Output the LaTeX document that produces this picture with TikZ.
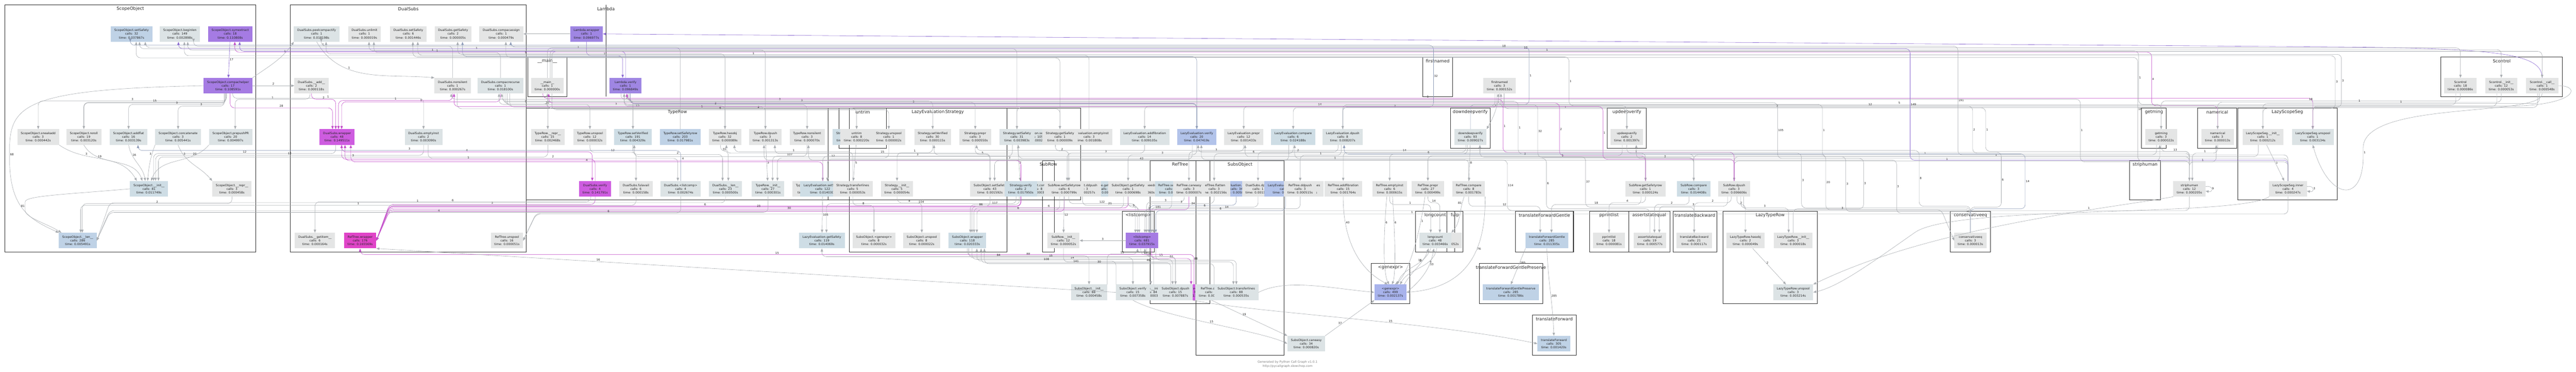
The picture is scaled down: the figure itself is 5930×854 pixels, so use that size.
\documentclass[tikz,border=0pt]{standalone}
\usepackage{fontspec}
\setmainfont{DejaVu Sans}
\usetikzlibrary{arrows.meta}

\newcommand{\nodefont}{\fontsize{7}{8.4}\selectfont}
\newcommand{\titlefont}{\fontsize{10}{12}\selectfont}
\newcommand{\numfont}{\fontsize{6.5}{7}\selectfont}

% function box: name, x, y, fill, label, calls, time
\newcommand{\callnode}[7]{\node[fn=#4] (#1) at (#2,-#3) {#5\\calls: #6\\time: #7s};}
% group frame with its title
\newcommand{\cluster}[6]{\draw[cluster box] (#2,-#3) rectangle (#4,-#5);
  \node[cluster title] (#1) at ({(#2+#4)/2},-#3-9) {#6};}
% call routed along one lane
\newcommand{\callvia}[5][]{\coordinate (ln) at (0,-#4);
  \draw[call,#1] (#2) -- (#2 |- ln) -- node[num]{#5} (#3 |- ln) -- (#3);}
% call that changes lane at x = #5
\newcommand{\callclimb}[7][]{\coordinate (la) at (#5,-#4); \coordinate (lb) at (#5,-#6);
  \draw[call,#1] (#2) -- (#2 |- la) -- (la) -- node[num,right]{#7} (lb) -- (#3 |- lb) -- (#3);}
% call entering a box from its right or left side
\newcommand{\callside}[5][]{\coordinate (ln) at (0,-#4); \coordinate (lp) at ([xshift=30pt]#3.east);
  \draw[call,#1] (#2) -- (#2 |- ln) -- node[num]{#5} (lp |- ln) -- (#3.east);}
\newcommand{\callsidel}[5][]{\coordinate (ln) at (0,-#4); \coordinate (lp) at ([xshift=-30pt]#3.west);
  \draw[call,#1] (#2) -- (#2 |- ln) -- node[num]{#5} (lp |- ln) -- (#3.west);}

\begin{document}
\begin{tikzpicture}
  [x=1pt,y=1pt,line cap=round,
  %Styles
  fn/.style={fill=#1,text=textgray,font=\nodefont,align=center,inner xsep=8pt,inner ysep=2pt,minimum height=36pt},
  cluster box/.style={draw=framegray,line width=1.2pt},
  cluster title/.style={font=\titlefont,text=black!85,inner sep=0pt},
  call/.style={draw=edgegray,line width=0.7pt,rounded corners=10pt,-{Triangle[length=7pt,width=5.5pt]}},
  num/.style={font=\numfont,text=black!85,inner sep=1pt,above},
  hot call/.style={draw=edgemag},
  purple call/.style={draw=edgepurp},
  cool call/.style={draw=edgeblue},
  heavy/.style={line width=1.4pt}
  ]

  %Colors
  \definecolor{textgray}{HTML}{262626}
  \definecolor{framegray}{HTML}{333333}
  \definecolor{edgegray}{HTML}{A9ADB1}
  \definecolor{edgemag}{HTML}{C24BC9}
  \definecolor{edgepurp}{HTML}{8C6BD2}
  \definecolor{edgeblue}{HTML}{8E9CB8}
  \definecolor{gr}{HTML}{E4E5E5}
  \definecolor{gb1}{HTML}{DCE3E5}
  \definecolor{gb2}{HTML}{CEDDE5}
  \definecolor{gb3}{HTML}{BFD2E6}
  \definecolor{gb4}{HTML}{B2C3EA}
  \definecolor{gb5}{HTML}{A8B3EC}
  \definecolor{purp}{HTML}{A57BE3}
  \definecolor{lav}{HTML}{9F86E3}
  \definecolor{mag}{HTML}{CE5CE0}
  \definecolor{hot}{HTML}{E045C8}

  \useasboundingbox (0,0) rectangle (5930,-854);
  \fill[white] (0,0) rectangle (5930,-854);

  %The graphic
  \cluster{tScopeObject}{11}{11}{589}{579}{ScopeObject}
  \cluster{tDualSubs}{668}{11}{1212}{579}{DualSubs}
  \cluster{tLambda}{1395}{11}{1395}{222}{Lambda}
  \cluster{tmain}{1215}{131}{1305}{222}{\_\_main\_\_}
  \cluster{tTypeRow}{1212}{249}{1907}{460}{TypeRow}
  \cluster{tStrategy}{1907}{249}{2488}{460}{Strategy}
  \cluster{tuntrim}{1931}{249}{2041}{341}{untrim}
  \cluster{tLazyEvaluation}{1955}{249}{2318}{579}{LazyEvaluation}
  \cluster{tSubRow}{2400}{369}{2427}{579}{SubRow}
  \cluster{tRefTree}{2648}{369}{2785}{698}{RefTree}
  \cluster{tSubsObject}{2753}{369}{2956}{817}{SubsObject}
  \cluster{tlistcomp}{2584}{486}{2657}{579}{<listcomp>}
  \cluster{tfirstnamed}{3275}{131}{3344}{222}{firstnamed}
  \cluster{tdowndeep}{3339}{249}{3430}{341}{downdeepverify}
  \cluster{tupdeep}{3700}{249}{3790}{341}{updeepverify}
  \cluster{tlongcount}{3259}{486}{3349}{579}{longcount}
  \cluster{tfulp}{3331}{486}{3368}{579}{fulp}
  \cluster{ttfg}{3489}{486}{3622}{579}{translateForwardGentle}
  \cluster{tpprint}{3659}{486}{3749}{579}{pprintlist}
  \cluster{tassert}{3749}{486}{3844}{579}{assertstatequal}
  \cluster{ttback}{3851}{486}{3952}{579}{translateBackward}
  \cluster{tLazyTypeRow}{3967}{486}{4183}{698}{LazyTypeRow}
  \cluster{tconseq}{4490}{486}{4582}{579}{conservativeeq}
  \cluster{tgenexpr}{3156}{606}{3246}{698}{<genexpr>}
  \cluster{ttfgp}{3405}{606}{3551}{698}{translateForwardGentlePreserve}
  \cluster{ttforward}{3528}{724}{3628}{817}{translateForward}
  \cluster{tgetming}{4930}{249}{4987}{341}{getming}
  \cluster{tstriphuman}{4902}{369}{4974}{460}{striphuman}
  \cluster{tnamerical}{5059}{249}{5149}{341}{namerical}
  \cluster{tLazyScopeSeg}{5151}{249}{5380}{460}{LazyScopeSeg}
  \cluster{tScontrol}{5619}{131}{5899}{222}{Scontrol}

  % rank 1
  \callnode{sosafe}{303}{78}{gb3}{ScopeObject.setSafety}{32}{0.037867}
  \callnode{sobeg}{414}{78}{gb1}{ScopeObject.beginlen}{149}{0.002898}
  \callnode{sosym}{530}{78}{purp}{ScopeObject.symextract}{18}{0.110808}
  \callnode{dspeel}{729}{78}{gb1}{DualSubs.peelcompactify}{1}{0.018198}
  \callnode{dsunlim}{839}{78}{gr}{DualSubs.unlimit}{1}{0.000019}
  \callnode{dssafe}{940}{78}{gr}{DualSubs.setSafety}{6}{0.001446}
  \callnode{dsgetsafe}{1043}{78}{gr}{DualSubs.getSafety}{2}{0.000005}
  \callnode{dscompas}{1154}{78}{gr}{DualSubs.compacassign}{1}{0.000479}
  \callnode{lamwrap}{1350}{78}{lav}{Lambda.wrapper}{1}{0.096977}
  % rank 2
  \callnode{socomp}{525}{197}{purp}{ScopeObject.compachelper}{17}{0.108591}
  \callnode{dsadd}{717}{197}{gr}{DualSubs.\_\_add\_\_}{2}{0.000118}
  \callnode{dsnonsil}{1042}{197}{gr}{DualSubs.nonsilent}{1}{0.000267}
  \callnode{dscomprec}{1152}{197}{gb1}{DualSubs.compacrecurse}{1}{0.018100}
  \callnode{mainfn}{1260}{197}{gr}{\_\_main\_\_}{1}{0.000000}
  \callnode{lamver}{1440}{197}{lav}{Lambda.verify}{1}{0.096849}
  \callnode{firstnamed}{3452}{197}{gr}{firstnamed}{3}{0.000152}
  \callnode{scontrol}{5664}{197}{gr}{Scontrol}{18}{0.000086}
  \callnode{scinit}{5758}{197}{gr}{Scontrol.\_\_init\_\_}{12}{0.000053}
  \callnode{sccall}{5852}{197}{gr}{Scontrol.\_\_call\_\_}{1}{0.000548}
  % rank 3
  \callnode{sosneak}{88}{315}{gr}{ScopeObject.sneakadd}{3}{0.000442}
  \callnode{soreroll}{193}{315}{gr}{ScopeObject.reroll}{19}{0.003120}
  \callnode{soaddflat}{296}{315}{gb1}{ScopeObject.addflat}{16}{0.003139}
  \callnode{soconcat}{410}{315}{gb1}{ScopeObject.concatenate}{3}{0.005441}
  \callnode{soprepush}{531}{315}{gb1}{ScopeObject.prepushPR}{20}{0.004997}
  \callnode{dswrap}{776}{315}{mag}{DualSubs.wrapper}{48}{0.149511}
  \callnode{dsempty}{975}{315}{gb1}{DualSubs.emptyinst}{2}{0.003090}
  \callnode{trrepr}{1261}{315}{gr}{TypeRow.\_\_repr\_\_}{15}{0.002468}
  \callnode{trunspool}{1358}{315}{gr}{TypeRow.unspool}{12}{0.000032}
  \callnode{trsetver}{1457}{315}{gb2}{TypeRow.setVerified}{191}{0.004329}
  \callnode{trsafe}{1566}{315}{gb3}{TypeRow.setSafetyrow}{203}{0.017981}
  \callnode{trhasobj}{1669}{315}{gr}{TypeRow.hasobj}{32}{0.000089}
  \callnode{trdpush}{1762}{315}{gr}{TypeRow.dpush}{3}{0.001313}
  \callnode{trnonsil}{1858}{315}{gr}{TypeRow.nonsilent}{3}{0.000070}
  \callnode{strahid}{1955}{315}{gb2}{Strategy.caneasy}{1}{0.000031}
  \callnode{untrim}{1972}{315}{gr}{untrim}{8}{0.000220}
  \callnode{stunspool}{2046}{315}{gr}{Strategy.unspool}{1}{0.000002}
  \callnode{stsetver}{2147}{315}{gr}{Strategy.setVerified}{30}{0.000115}
  \callnode{stprepr}{2245}{315}{gr}{Strategy.prepr}{3}{0.000550}
  \callnode{lesetver}{2384}{315}{gb1}{LazyEvaluation.setVerified}{105}{0.000230}
  \callnode{stsafe}{2341}{315}{gb1}{Strategy.setSafety}{31}{0.003983}
  \callnode{leempty}{2507}{315}{gr}{LazyEvaluation.emptyinst}{3}{0.001808}
  \callnode{stgetsafe}{2440}{315}{gr}{Strategy.getSafety}{1}{0.000009}
  \callnode{leaddfib}{2635}{315}{gb1}{LazyEvaluation.addfibration}{14}{0.009105}
  \callnode{leverify}{2755}{315}{gb4}{LazyEvaluation.verify}{20}{0.047419}
  \callnode{leprepr}{2863}{315}{gr}{LazyEvaluation.prepr}{12}{0.001433}
  \callnode{lecompare}{2977}{315}{gb2}{LazyEvaluation.compare}{6}{0.024188}
  \callnode{ledpush}{3091}{315}{gb1}{LazyEvaluation.dpush}{8}{0.008207}
  \callnode{downdeep}{3385}{315}{gb1}{downdeepverify}{93}{0.009027}
  \callnode{updeep}{3745}{315}{gr}{updeepverify}{2}{0.001397}
  \callnode{getming}{4975}{315}{gr}{getming}{3}{0.000022}
  \callnode{namerical}{5105}{315}{gr}{namerical}{3}{0.000013}
  \callnode{lssinit}{5209}{315}{gr}{LazyScopeSeg.\_\_init\_\_}{1}{0.000212}
  \callnode{lssunspool}{5324}{315}{gb1}{LazyScopeSeg.unspool}{1}{0.003134}
  % rank 4
  \callnode{soinit}{343}{434}{gb2}{ScopeObject.\_\_init\_\_}{81}{0.011749}
  \callnode{sorepr}{534}{434}{gr}{ScopeObject.\_\_repr\_\_}{3}{0.000458}
  \callnode{dsverify}{1370}{434}{mag}{DualSubs.verify}{4}{0.141791}
  \callnode{dsfulavail}{1464}{434}{gr}{DualSubs.fulavail}{6}{0.000158}
  \callnode{dslistcomp}{1567}{434}{gb1}{DualSubs.<listcomp>}{4}{0.002674}
  \callnode{dslen}{1670}{434}{gb1}{DualSubs.\_\_len\_\_}{23}{0.000500}
  \callnode{trinit}{1768}{434}{gb1}{TypeRow.\_\_init\_\_}{27}{0.000301}
  \callnode{trhid}{1865}{434}{gr}{TypeRow.getSafety}{1}{0.000011}
  \callnode{lesafe}{1894}{434}{gb2}{LazyEvaluation.setSafety}{122}{0.014030}
  \callnode{sttransfer}{1963}{434}{gr}{Strategy.transferlines}{5}{0.000053}
  \callnode{stinit}{2065}{434}{gr}{Strategy.\_\_init\_\_}{5}{0.000054}
  \callnode{sosetsafe}{2279}{434}{gr}{SubsObject.setSafety}{43}{0.001592}
  \callnode{socompare}{2387}{434}{gb1}{SubsObject.compare}{8}{0.000390}
  \callnode{stverify}{2350}{434}{gb2}{Strategy.verify}{2}{0.017950}
  \callnode{rtgetsafe}{2544}{434}{gb2}{RefTree.getSafety}{1}{0.000012}
  \callnode{soddpush}{2492}{434}{gr}{SubsObject.ddpush}{3}{0.000257}
  \callnode{srsafe}{2450}{434}{gr}{SubRow.setSafetyrow}{6}{0.000799}
  \callnode{soneeds}{2629}{434}{gr}{SubsObject.needs}{3}{0.000060}
  \callnode{sogetsafe}{2597}{434}{gr}{SubsObject.getSafety}{1}{0.000698}
  \callnode{rtsafe}{2697}{434}{gb2}{RefTree.setSafety}{12}{0.000410}
  \callnode{lecaneasy}{2846}{434}{gb4}{LazyEvaluation.caneasy}{34}{0.005870}
  \callnode{rtflatten}{2795}{434}{gr}{RefTree.flatten}{3}{0.002156}
  \callnode{rtcaneasy}{2737}{434}{gr}{RefTree.caneasy}{3}{0.000007}
  \callnode{dsdpush}{2896}{434}{gr}{DualSubs.dpush}{1}{0.001170}
  \callnode{lehid}{2959}{434}{gb4}{LazyEvaluation.ddpush}{3}{0.006530}
  \callnode{rthid}{3003}{434}{gr}{RefTree.transferlines}{14}{0.000090}
  \callnode{rtddpush}{2993}{434}{gr}{RefTree.ddpush}{3}{0.000515}
  \callnode{rtaddfib}{3092}{434}{gr}{RefTree.addfibration}{15}{0.001764}
  \callnode{rtempty}{3199}{434}{gr}{RefTree.emptyinst}{6}{0.000615}
  \callnode{rtprepr}{3287}{434}{gr}{RefTree.prepr}{27}{0.000499}
  \callnode{rtcompare}{3381}{434}{gr}{RefTree.compare}{8}{0.001783}
  \callnode{srgetsafe}{3788}{434}{gr}{SubRow.getSafetyrow}{1}{0.000124}
  \callnode{srcompare}{3899}{434}{gb2}{SubRow.compare}{3}{0.014408}
  \callnode{srdpush}{3992}{434}{gr}{SubRow.dpush}{3}{0.006606}
  \callnode{striphuman}{5040}{434}{gr}{striphuman}{12}{0.000205}
  \callnode{lssinner}{5267}{434}{gr}{LazyScopeSeg.inner}{4}{0.000247}
  % rank 5
  \callnode{solen}{179}{553}{gb3}{ScopeObject.\_\_len\_\_}{286}{0.005491}
  \callnode{dsgetitem}{725}{553}{gr}{DualSubs.\_\_getitem\_\_}{6}{0.000164}
  \callnode{rtwrap}{829}{553}{hot}{RefTree.wrapper}{176}{0.165569}
  \callnode{rtunspool}{1167}{553}{gr}{RefTree.unspool}{16}{0.000051}
  \callnode{legetsafe}{1892}{553}{gb2}{LazyEvaluation.getSafety}{119}{0.014069}
  \callnode{sogenexpr}{2012}{553}{gr}{SubsObject.<genexpr>}{8}{0.000032}
  \callnode{sounspool}{2122}{553}{gr}{SubsObject.unspool}{8}{0.000022}
  \callnode{sowrap}{2227}{553}{gb2}{SubsObject.wrapper}{118}{0.020333}
  \callnode{srinit}{2448}{553}{gr}{SubRow.\_\_init\_\_}{12}{0.000052}
  \callnode{listcomp}{2629}{553}{purp}{<listcomp>}{681}{0.037915}
  \callnode{fulp}{3329}{553}{gr}{fulp}{1}{0.000052}
  \callnode{longcount}{3304}{553}{gb1}{longcount}{48}{0.003466}
  \callnode{tfg}{3561}{553}{gb3}{translateForwardGentle}{285}{0.011305}
  \callnode{pprintlist}{3704}{553}{gr}{pprintlist}{18}{0.000081}
  \callnode{assertsq}{3798}{553}{gr}{assertstatequal}{19}{0.000577}
  \callnode{tback}{3900}{553}{gr}{translateBackward}{21}{0.000117}
  \callnode{ltrhasobj}{4018}{553}{gr}{LazyTypeRow.hasobj}{2}{0.000049}
  \callnode{ltrinit}{4128}{553}{gr}{LazyTypeRow.\_\_init\_\_}{3}{0.000018}
  \callnode{conseq}{4536}{553}{gr}{conservativeeq}{3}{0.000013}
  % rank 6
  \callnode{rtinit}{2649}{672}{gb1}{RefTree.\_\_init\_\_}{84}{0.000381}
  \callnode{soinit2}{2507}{672}{gb1}{SubsObject.\_\_init\_\_}{88}{0.000458}
  \callnode{soverify}{2608}{672}{gb1}{SubsObject.verify}{15}{0.007358}
  \callnode{rtverify}{2742}{672}{mag}{RefTree.verify}{32}{0.013696}
  \callnode{sodpush}{2706}{672}{gb1}{SubsObject.dpush}{15}{0.007887}
  \callnode{rthid2}{2789}{672}{gb1}{RefTree.dpush}{15}{0.000220}
  \callnode{sotransfer}{2846}{672}{gb1}{SubsObject.transferlines}{88}{0.000535}
  \callnode{genexpr}{3201}{672}{gb5}{<genexpr>}{499}{0.002137}
  \callnode{tfgp}{3478}{672}{gb3}{translateForwardGentlePreserve}{285}{0.001786}
  \callnode{ltrunspool}{4128}{672}{gb1}{LazyTypeRow.unspool}{3}{0.003214}
  % rank 7
  \callnode{socaneasy}{3007}{790}{gb1}{SubsObject.caneasy}{34}{0.000820}
  \callnode{tforward}{3577}{790}{gb3}{translateForward}{305}{0.001420}

  \node[font=\fontsize{7}{9.3}\selectfont,text=black!50,align=center] (credit) at (2964,-837)
    {Generated by Python Call Graph v1.0.1\\http://pycallgraph.slowchop.com};

  % ScopeObject
  \draw[call,purple call] (sosym) -- node[num,right]{17} (socomp);
  \draw[call] (socomp) -- node[num]{2} (dsadd);
  \draw[call] (socomp.north east) to[out=35,in=-125] node[num,pos=.8,left]{1} (dspeel.south west);
  \callvia{socomp.-100}{sosneak.north}{232}{3}
  \callvia[heavy]{socomp.-105}{soreroll.north}{236}{15}
  \callvia{socomp.-110}{soaddflat.north}{240}{3}
  \callvia{socomp.-115}{soconcat.north}{244}{3}
  \callvia[hot call]{socomp.-75}{dswrap.120}{248}{28}
  \callvia{dsadd.-100}{soprepush.60}{228}{1}
  \callvia{socomp.-60}{dsempty.north}{226}{1}
  \draw[call] (socomp.west) .. controls (60,-205) and (22,-240) .. (22,-355) node[num,right]{68}
    .. controls (22,-480) and (70,-505) .. (solen.north west);
  \draw[call] (sosneak.south east) to[out=-35,in=120] node[num,pos=.3,above right]{3} (soinit.147);
  \draw[call] (soreroll.south) to[out=-60,in=110] node[num,pos=.25,right]{19} (soinit.130);
  \draw[call] (soaddflat.south) to[out=-80,in=100] node[num,pos=.25,right]{16} (soinit.115);
  \draw[call] (soconcat.south west) to[out=-110,in=85] node[num,pos=.25,left]{3} (soinit.100);
  \draw[call] (soprepush.south west) to[out=-130,in=70] node[num,pos=.2,left]{20} (soinit.75);
  \draw[call] (soconcat.south) to[out=-70,in=130] node[num,pos=.2,right]{3} (sorepr.north west);
  \draw[call] (soinit.west) .. controls (150,-447) and (58,-450) .. (58,-474) node[num,left]{81}
    .. controls (58,-500) and (110,-515) .. ([xshift=6pt]solen.north west);

  % DualSubs and Lambda
  \draw[call] (dspeel.south) to[out=-60,in=175] node[num,pos=.35,above]{1} (dsnonsil.north west);
  \draw[call] (lamwrap.west) -- (dscompas.east);
  \callvia[purple call]{lamwrap.south}{lamver.110}{128}{1}
  \draw[call,purple call] (sccall.north) .. controls (5852,-125) and (5760,-112) .. (5400,-108) -- (lamwrap.east);

  % into the first rank
  \callvia{dsnonsil.north}{sobeg.-30}{106}{1}
  \callvia{trsafe.north}{sosafe.-30}{109}{1}
  \callvia{stsafe.north}{sosafe.-45}{112}{1}
  \callvia{trdpush.north}{sobeg.-45}{115}{1}
  \callvia[purple call]{lamver.north}{sosym.-40}{118}{1}
  \callvia{dscomprec.north}{dsunlim.-40}{121}{1}
  \callvia{trhasobj.north}{dspeel.-40}{124}{1}
  \callvia{leempty.north}{dssafe.-40}{127}{1}
  \callvia[cool call]{leverify.north}{dsgetsafe.-40}{130}{}
  \callvia{stgetsafe.north}{sosafe.-60}{133}{}
  \callvia{mainfn.north}{scontrol.north}{110}{18}
  \callvia{mainfn.70}{scinit.north}{114}{12}
  \callvia{mainfn.60}{sccall.north}{118}{1}
  \callclimb{getming.north}{dsunlim.-60}{240}{4923}{117}{1}
  \callclimb[hot call]{namerical.north}{sosym.-60}{243}{4953}{120}{4}
  \callclimb{lssunspool.north}{dsgetsafe.-60}{246}{5390}{125}{3}
  \callclimb{lssinit.north}{sobeg.-60}{249}{5376}{128}{3}
  \callclimb{updeep.north}{dssafe.-60}{243}{3612}{131}{1}
  \callclimb[cool call]{downdeep.north}{dscompas.-40}{240}{3520}{108}{1}
  \callclimb[cool call]{ledpush.north}{sosafe.-100}{246}{3300}{104}{32}

  % second to third rank
  \callvia[hot call]{dsadd.south}{dswrap.100}{228}{2}
  \callvia[hot call]{dsnonsil.south}{dswrap.80}{231}{1}
  \callvia[hot call]{dscomprec.south}{dswrap.60}{234}{1}
  \callvia{dscomprec.-70}{trrepr.north}{237}{1}
  \callvia{dscomprec.-60}{trunspool.north}{240}{20}
  \callvia{dscomprec.-50}{trhasobj.north}{243}{3}
  \callvia{dscomprec.-40}{trdpush.north}{246}{15}
  \callvia{mainfn.south}{untrim.north}{249}{1}
  \callvia{mainfn.-60}{stunspool.north}{252}{6}
  \callvia[hot call]{mainfn.-120}{lssunspool.north}{226}{1}
  \callvia{lamver.-120}{trsetver.north}{229}{2}
  \callvia{lamver.-80}{stsetver.north}{232}{3}
  \callvia{lamver.-70}{stprepr.north}{235}{3}
  \callvia[cool call,heavy]{lamver.-60}{leverify.north}{238}{3}
  \callvia{lamver.-100}{trnonsil.north}{241}{2}
  \callvia{firstnamed.-120}{leaddfib.north}{244}{14}
  \callvia{firstnamed.-110}{lecompare.north}{247}{3}
  \callvia{firstnamed.-60}{updeep.north}{250}{1}
  \draw[call] (firstnamed.south) to[out=-100,in=60] node[num,pos=.3,left]{1} (downdeep.north east);
  \callvia{scontrol.south}{getming.north}{232}{18}
  \callvia{scinit.south}{namerical.north}{235}{1}
  \callvia{sccall.-110}{lssinit.north}{238}{1}
  \callvia{scontrol.-120}{ledpush.north}{241}{5}
  \callvia{scinit.-120}{leprepr.north}{244}{12}
  \callvia{sccall.-120}{stsafe.north}{247}{3}
  \callvia{dsnonsil.-60}{stgetsafe.north}{250}{2}
  \coordinate (loopend) at (5324,-244);
  \draw[call] (sccall.east) .. controls (5945,-197) and (5930,-244) .. (5760,-244) -- (loopend) -- (lssunspool.north);
  \draw[call] (sccall.south) .. controls (5852,-270) and (5440,-230) .. (5440,-350) node[num,right]{1}
    .. controls (5440,-470) and (5360,-460) .. (lssunspool.south);

  % third to fourth rank
  \callvia[hot call]{dswrap.-60}{dsverify.110}{349}{4}
  \callvia{dswrap.-100}{soinit.60}{353}{12}
  \callvia{dsempty.south}{soinit.50}{357}{13}
  \callvia{trrepr.south}{soinit.40}{361}{3}
  \callvia{trunspool.south}{dsfulavail.north}{350}{12}
  \callvia{dsempty.-60}{dslistcomp.110}{364}{2}
  \callvia{trhasobj.-120}{dslen.70}{347}{31}
  \callvia{trsetver.south}{dslen.110}{355}{2}
  \draw[call] (trdpush) -- node[num,right]{3} (trinit);
  \callvia{trnonsil.south}{trinit.60}{359}{107}
  \callvia{stunspool.south}{trinit.40}{363}{12}
  \draw[call] (untrim) -- node[num,right]{5} (sttransfer);
  \callvia{stsetver.south}{stinit.north}{351}{1}
  \callvia{stprepr.south}{sosetsafe.north}{355}{5}
  \draw[call] (stsafe) -- node[num,right]{2} (stverify);
  \callvia{stsafe.-120}{lesafe.north}{359}{3}
  \callvia{stgetsafe.-120}{srsafe.60}{347}{2}
  \callvia{leaddfib.south}{srsafe.70}{352}{3}
  \callvia{leverify.south}{sogetsafe.north}{356}{3}
  \callvia{leprepr.south}{rtcaneasy.north}{348}{3}
  \callvia{lecompare.south}{rtflatten.north}{353}{6}
  \callvia{ledpush.-120}{dsdpush.north}{349}{2}
  \callvia{ledpush.-100}{rtddpush.north}{357}{1}
  \callvia{downdeep.-120}{rtaddfib.north}{350}{14}
  \callvia{downdeep.-110}{rtempty.north}{354}{6}
  \callvia{updeep.-120}{rtprepr.north}{358}{3}
  \draw[call] (downdeep) -- node[num,right]{8} (rtcompare);
  \callvia{updeep.south}{srgetsafe.north}{352}{1}
  \callvia{getming.-120}{srcompare.north}{356}{1}
  \callvia{lssinit.-120}{srdpush.north}{360}{1}
  \callvia{getming.south}{striphuman.north}{348}{13}
  \callvia{namerical.south}{striphuman.70}{352}{1}
  \draw[call] (lssinit) -- node[num,right]{1} (lssinner);
  \callvia{leverify.-120}{lesafe.60}{366}{2}
  \callvia{lecompare.-120}{sosetsafe.60}{369}{43}
  \callvia[hot call]{dsverify.north}{dswrap.-60}{366}{1}
  \callvia[hot call]{stverify.north}{dswrap.-45}{369}{4}
  \callvia[hot call]{lesafe.north}{dswrap.-30}{372}{4}
  \callvia[cool call]{dslistcomp.north}{soaddflat.-40}{346}{3}
  \callvia{sttransfer.north}{trhasobj.-40}{349}{1}
  \callvia{sosetsafe.north}{trdpush.-40}{353}{15}
  \callvia{srgetsafe.north}{downdeep.-40}{361}{1}
  \callvia{srcompare.north}{updeep.-40}{364}{3}
  \callvia{srdpush.north}{getming.-100}{370}{1}
  \callvia{striphuman.north}{namerical.-100}{372}{1}
  \callvia{rtcompare.north}{leverify.-60}{367}{1}

  % long calls changing lane
  \callclimb{lssinner.north}{mainfn.south}{364}{4092}{236}{105}
  \callclimb{striphuman.north}{dscomprec.-100}{360}{4195}{240}{1}
  \callclimb[purple call]{lssinner.north}{sobeg.-100}{368}{4397}{112}{149}
  \callclimb{lssinner.north}{dspeel.-60}{356}{4507}{106}{191}
  \callclimb{striphuman.north}{lamver.-100}{352}{4541}{244}{2}
  \callclimb{striphuman.north}{firstnamed.-80}{348}{4571}{248}{1}
  \callclimb{lssinner.north}{dsnonsil.-100}{372}{4789}{228}{1}
  \callclimb{striphuman.north}{dscompas.-60}{370}{4921}{132}{18}
  \callclimb[hot call]{srdpush.north}{lamver.-80}{350}{3460}{229}{1}
  \callclimb{srcompare.north}{dscomprec.-80}{354}{3495}{233}{1}
  \callclimb[hot call]{srgetsafe.north}{mainfn.-80}{358}{3590}{237}{2}
  \callclimb{srcompare.north}{firstnamed.-100}{362}{3540}{241}{32}
  \callclimb[hot call]{srdpush.north}{dsnonsil.-80}{366}{3690}{245}{1}
  \callclimb{conseq.north}{trhasobj.-80}{478}{4147}{352}{3}
  \callclimb{conseq.north}{stsetver.-80}{482}{4203}{356}{20}
  \callclimb{conseq.north}{leprepr.-80}{486}{4249}{360}{3}
  \callclimb{ltrinit.north}{lecompare.-80}{480}{4290}{364}{3}
  \callclimb{conseq.north}{trnonsil.-80}{490}{4366}{368}{3}
  \callclimb{conseq.north}{stprepr.-80}{474}{4418}{346}{8}
  \callclimb{conseq.north}{leverify.-80}{476}{4607}{350}{6}
  \callclimb[cool call]{conseq.north}{ledpush.-80}{480}{4662}{354}{14}
  \callclimb{tback.north}{trsetver.-80}{476}{3650}{360}{37}
  \callclimb{assertsq.north}{stsafe.-80}{480}{3560}{364}{6}
  \callclimb{pprintlist.north}{trdpush.-100}{484}{3470}{368}{114}

  % fourth to fifth rank
  \callside[hot call]{dsverify.south}{rtwrap}{470}{3}
  \callside[hot call,heavy]{stverify.south}{rtwrap}{474}{6}
  \callside[hot call]{sogetsafe.south}{rtwrap}{478}{23}
  \callside[hot call]{rtcaneasy.south}{rtwrap}{482}{30}
  \callside[hot call]{srsafe.south}{rtwrap}{486}{}
  \callside{dslen.south}{solen}{466}{1}
  \callside{trinit.south}{solen}{488}{4}
  \callside{dslistcomp.south}{rtunspool}{490}{6}
  \callside{lssinner.south}{rtunspool}{492}{1}
  \callside{striphuman.south}{solen}{484}{5}
  \callvia{dsverify.-120}{dsgetitem.north}{464}{6}
  \callvia{sorepr.south}{solen.60}{468}{2}
  \callvia{dsfulavail.south}{solen.70}{472}{1}
  \draw[call] (lesafe) -- node[num,right]{105} (legetsafe);
  \callvia{stverify.-120}{legetsafe.60}{468}{104}
  \callvia{stinit.south}{sounspool.north}{466}{8}
  \callvia{stverify.-100}{sowrap.70}{470}{117}
  \callvia{sosetsafe.south}{sowrap.60}{474}{86}
  \callvia{sogetsafe.-120}{sowrap.50}{478}{6}
  \callvia{srsafe.-120}{sowrap.40}{482}{6}
  \callvia{sttransfer.south}{sogenexpr.north}{472}{8}
  \draw[call] (srsafe) -- node[num,right]{12} (srinit);
  \callvia{srsafe.-60}{listcomp.130}{468}{122}
  \callvia{soddpush.south}{listcomp.120}{472}{21}
  \callvia{sogetsafe.south}{listcomp.110}{476}{3}
  \callvia{rtsafe.south}{listcomp.70}{480}{181}
  \callvia{rtcaneasy.-120}{listcomp.60}{464}{3}
  \callvia{rtflatten.south}{listcomp.50}{468}{3}
  \callvia[cool call]{lecaneasy.south}{listcomp.45}{472}{34}
  \callvia{dsdpush.south}{listcomp.40}{476}{6}
  \callvia{rtddpush.south}{listcomp.35}{480}{14}
  \callvia[cool call]{lehid.south}{listcomp.30}{484}{6}
  \callvia{rtprepr.south}{longcount.60}{466}{14}
  \callvia{rtempty.south}{longcount.120}{470}{1}
  \callvia{rtcompare.south}{tfg.130}{474}{12}
  \callvia{srgetsafe.-120}{tfg.60}{470}{18}
  \callvia{srgetsafe.south}{pprintlist.north}{466}{4}
  \callvia{srcompare.-120}{assertsq.60}{470}{2}
  \callvia{srdpush.-130}{assertsq.40}{474}{3}
  \callvia{srdpush.-110}{tback.north}{466}{2}
  \callvia{srdpush.-70}{ltrhasobj.north}{470}{2}
  \callvia{srdpush.-50}{ltrinit.120}{478}{3}
  \callsidel{srdpush.-40}{conseq}{482}{3}
  \draw[call] (lssinner.south west) .. controls (5150,-500) and (4500,-470) .. (4400,-540)
    .. controls (4300,-610) and (4230,-660) .. (ltrunspool.east);
  \draw[call] (striphuman.south west) .. controls (4850,-480) and (4450,-520) .. node[num,pos=.3,above]{1} (ltrunspool.north east);

  % fifth rank and below
  \draw[call] (listcomp) -- node[num]{3} (srinit);
  \callvia{sowrap.south}{soinit2.north}{588}{88}
  \callvia{sowrap.-80}{soverify.north}{592}{15}
  \callvia{listcomp.-100}{rtinit.north}{586}{84}
  \callvia{listcomp.-60}{sodpush.north}{590}{15}
  \callvia[hot call]{listcomp.-40}{rtverify.north}{594}{32}
  \callvia{listcomp.-30}{sotransfer.north}{598}{88}
  \callvia{sowrap.-60}{sodpush.110}{596}{14}
  \callvia{srinit.south}{sotransfer.110}{602}{46}
  \callvia{soverify.north west}{sowrap.-40}{600}{108}
  \callvia{sodpush.120}{sowrap.-30}{604}{141}
  \callvia{sotransfer.north west}{sowrap.-25}{606}{30}
  \callvia{soinit2.north east}{listcomp.-120}{584}{15}
  \callvia{rtinit.70}{listcomp.-70}{588}{16}
  \callvia[hot call]{rtverify.70}{rtwrap.south}{585}{15}
  \callvia{sodpush.north}{legetsafe.south}{590}{84}
  \draw[call] (soverify.west) -- node[num,pos=.7,above]{16} (rtwrap.south east);
  \draw[call] (rtaddfib.south) .. controls (3092,-600) and (3170,-640) .. node[num,pos=.15,right]{40} (genexpr.110);
  \draw[call] (rtempty.-110) .. controls (3180,-600) and (3190,-640) .. node[num,pos=.15,right]{6} (genexpr.100);
  \draw[call] (rtempty.-70) .. controls (3215,-600) and (3210,-640) .. node[num,pos=.15,right]{6} (genexpr.80);
  \draw[call] (rtprepr.-110) .. controls (3260,-590) and (3230,-640) .. node[num,pos=.15,right]{1} (genexpr.60);
  \draw[call] (longcount.-120) to[out=-110,in=70] node[num,pos=.3,left]{3} (genexpr.50);
  \draw[call] (longcount.-80) to[out=-100,in=60] node[num,pos=.3,right]{4} (genexpr.40);
  \draw[call] (genexpr.30) to[out=60,in=-110] node[num,pos=.7,left]{15} (longcount.-130);
  \draw[call] (genexpr.east) to[out=40,in=-100] node[num,pos=.7,right]{33} (longcount.-100);
  \draw[call] (rtcompare.south east) .. controls (3420,-560) and (3390,-660) .. node[num,pos=.4,right]{76} (genexpr.east);
  \draw[call] (rtcompare.-120) to[out=-110,in=50] node[num,pos=.15,left]{81} (longcount.north east);
  \draw[call] (sotransfer.east) .. controls (2960,-640) and (3060,-662) .. (genexpr.west);
  \draw[call] (socaneasy.north east) -- node[num,pos=.35,left]{37} (genexpr.south west);
  \draw[call] (soverify.south) .. controls (2680,-730) and (2900,-760) .. node[num,pos=.5,above]{15} (socaneasy.west);
  \draw[call] (rthid2.south) -- node[num,pos=.4,right]{19} (socaneasy.north west);
  \draw[call] (sodpush.south east) .. controls (2900,-720) and (3300,-740) .. node[num,pos=.6,above]{15} (tforward.west);
  \draw[call] (tfg.south west) -- node[num,pos=.4,right]{285} (tfgp.north);
  \draw[call] (tfg.south) to[out=-88,in=92] node[num,pos=.55,right]{285} (tforward.north);
  \draw[call] (ltrhasobj) -- node[num,pos=.4,right]{2} (ltrunspool);
  \draw[call] ([yshift=5pt]striphuman.east) .. controls +(18,4) and +(18,-4) .. node[num,right]{9} ([yshift=-5pt]striphuman.east);
  \draw[call] ([yshift=5pt]lssinner.east) .. controls +(18,4) and +(18,-4) .. node[num,right]{3} ([yshift=-5pt]lssinner.east);
\end{tikzpicture}
\end{document}
